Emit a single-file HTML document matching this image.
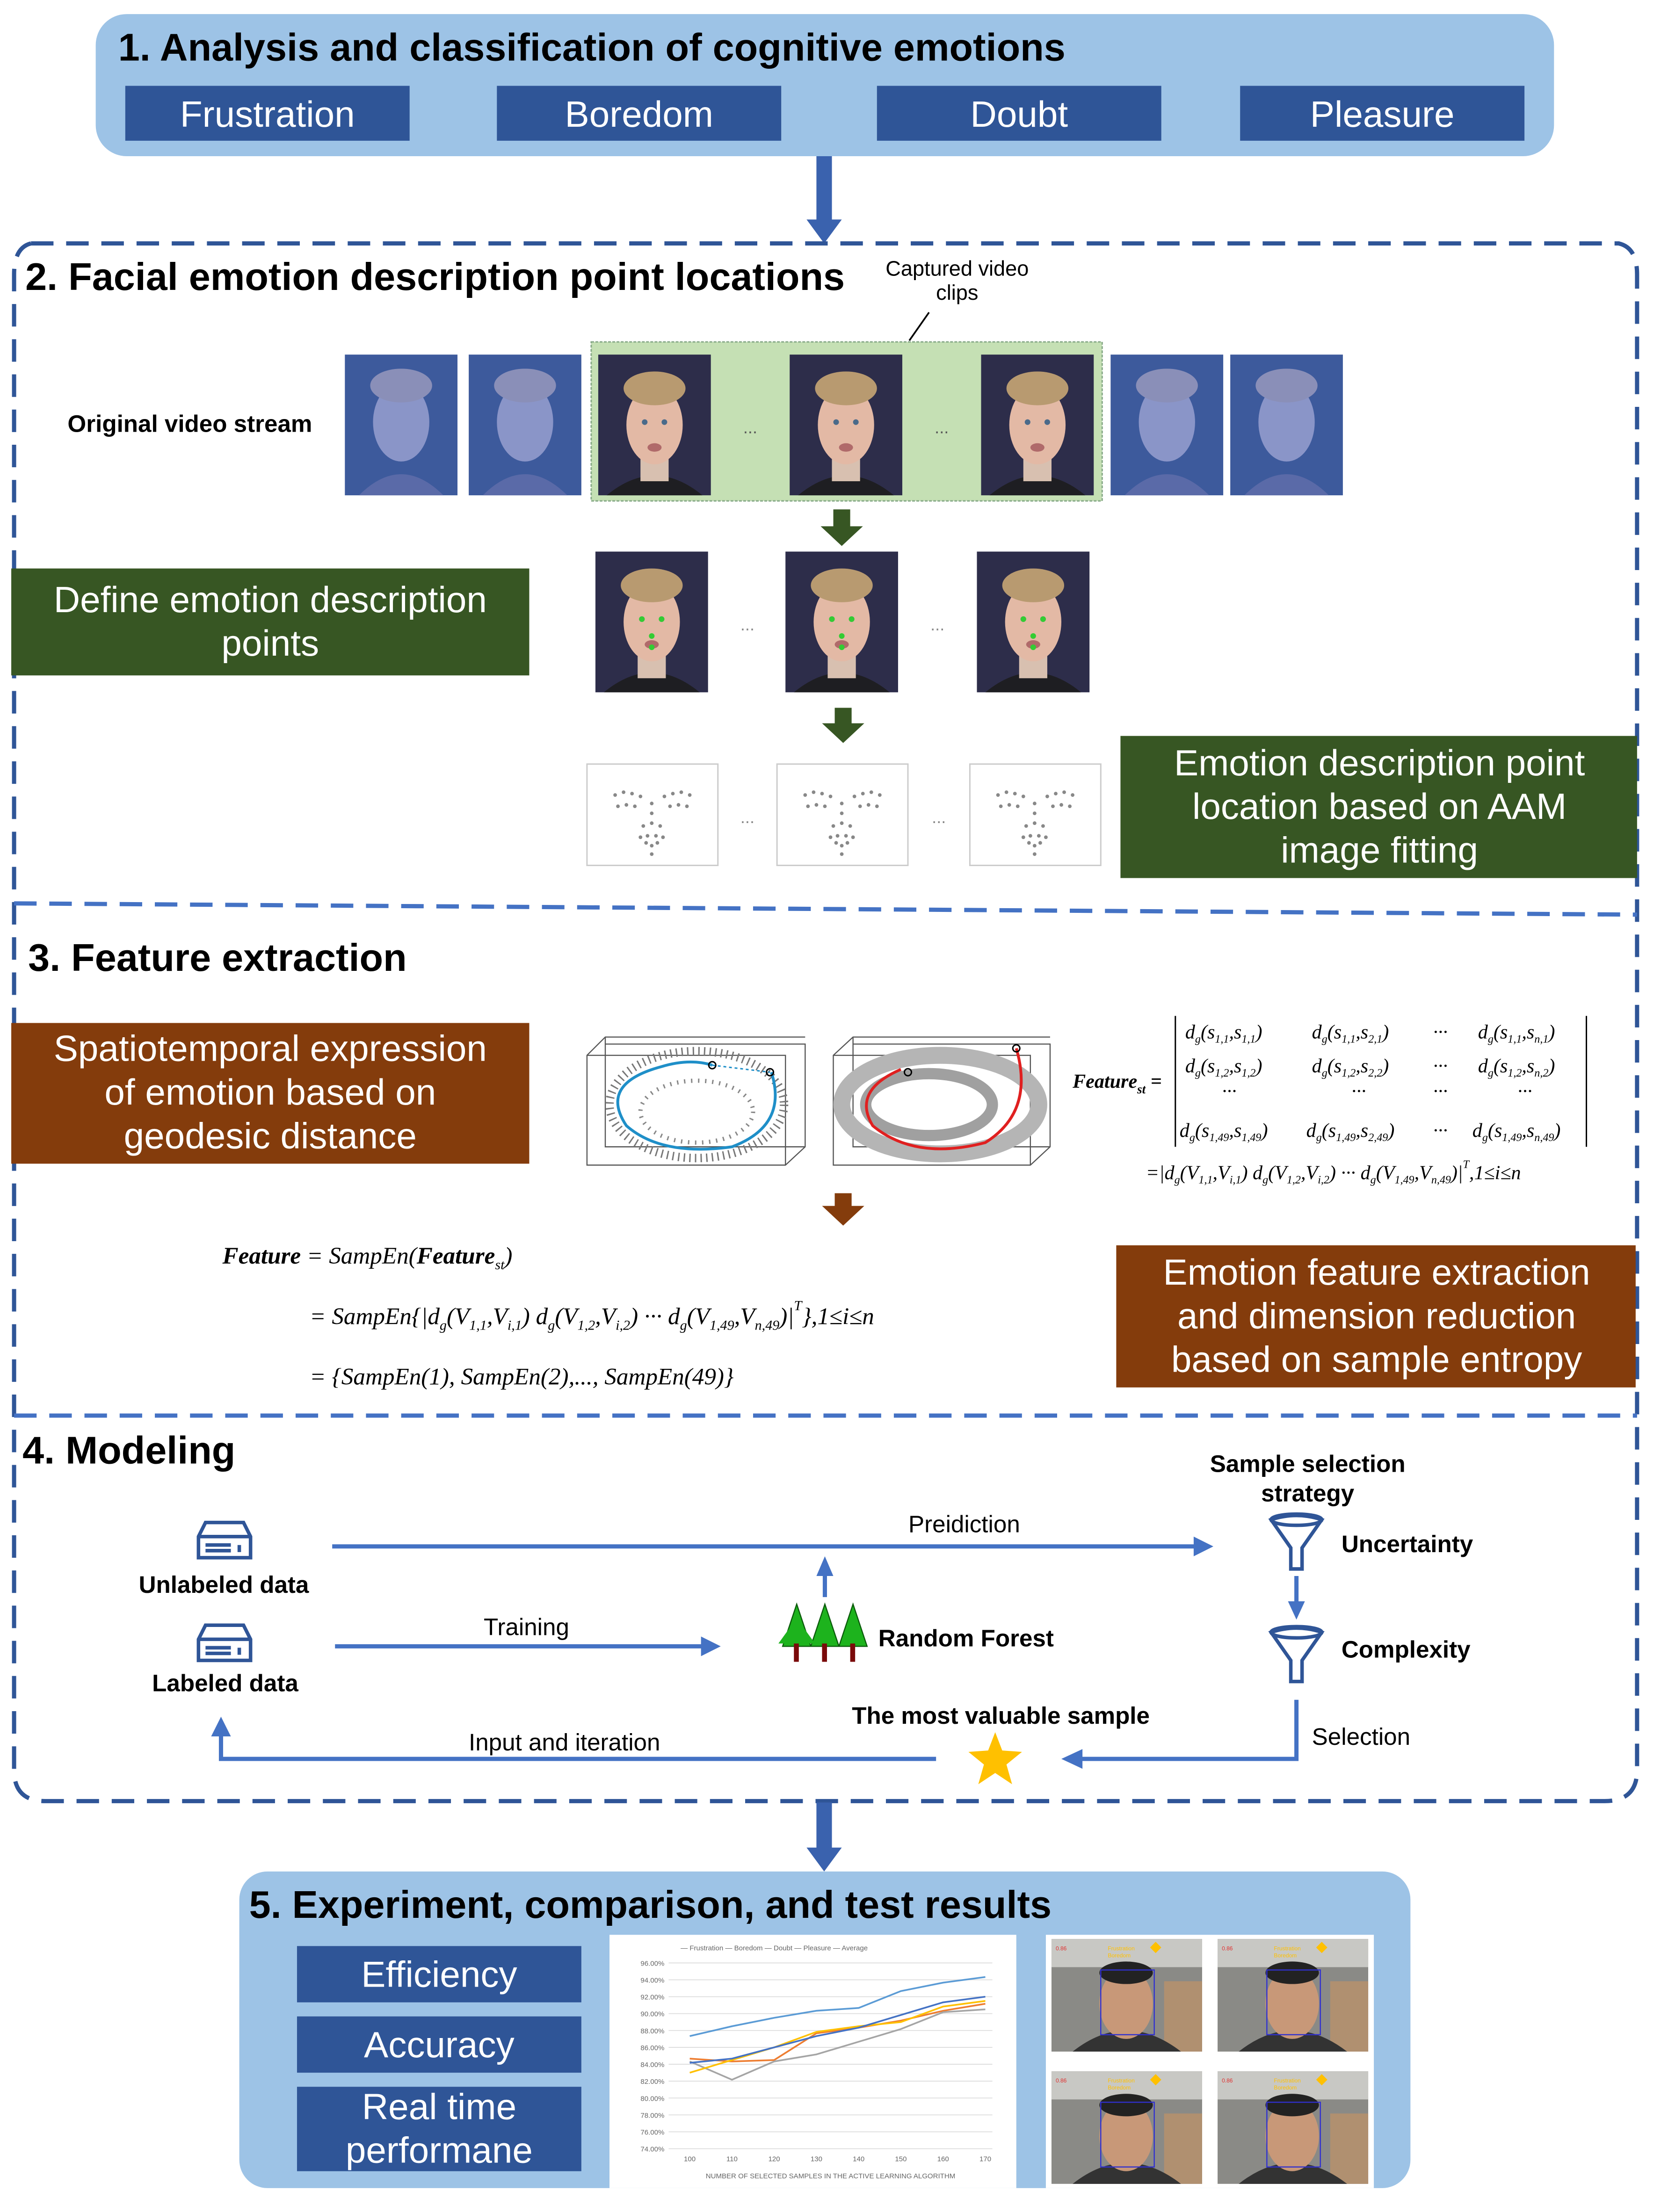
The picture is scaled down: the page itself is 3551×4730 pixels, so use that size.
<!DOCTYPE html>
<html><head><meta charset="utf-8"><style>
html,body{margin:0;padding:0;background:#fff;}
svg{display:block;}
.s{font-family:"Liberation Sans",sans-serif;}
.m{font-family:"Liberation Serif",serif;font-style:italic;}
</style></head><body>
<svg width="3551" height="4730" viewBox="0 0 1180 1572" preserveAspectRatio="none" xmlns="http://www.w3.org/2000/svg">
<defs>
<g id="face">
<rect x="0" y="0" width="80" height="100" fill="#3d5a9c"/>
<ellipse cx="40" cy="48" rx="20" ry="28" fill="#8a95c8"/>
<ellipse cx="40" cy="22" rx="22" ry="12" fill="#8a8fb8"/>
<path d="M10 100 Q40 70 70 100Z" fill="#5a6aa8"/>
</g>
<g id="faceC">
<rect x="0" y="0" width="80" height="100" fill="#2d2d4a"/>
<path d="M6 100 Q40 72 74 100Z" fill="#1e1e22"/>
<rect x="30" y="70" width="20" height="20" fill="#d8c0b0"/>
<ellipse cx="40" cy="50" rx="20" ry="28" fill="#e3b9a5"/>
<ellipse cx="40" cy="24" rx="22" ry="12" fill="#b89a70"/>
<circle cx="33" cy="48" r="2" fill="#4a6a8a"/><circle cx="47" cy="48" r="2" fill="#4a6a8a"/>
<ellipse cx="40" cy="66" rx="5" ry="3" fill="#b06a6a"/>
</g>
<g id="dots" fill="#888">
<circle cx="20" cy="20" r="1.3"/><circle cx="26" cy="18" r="1.3"/><circle cx="32" cy="19" r="1.3"/><circle cx="38" cy="21" r="1.3"/>
<circle cx="55" cy="21" r="1.3"/><circle cx="61" cy="19" r="1.3"/><circle cx="67" cy="18" r="1.3"/><circle cx="73" cy="20" r="1.3"/>
<circle cx="22" cy="28" r="1.3"/><circle cx="28" cy="27" r="1.3"/><circle cx="34" cy="28" r="1.3"/><circle cx="59" cy="28" r="1.3"/><circle cx="65" cy="27" r="1.3"/><circle cx="71" cy="28" r="1.3"/>
<circle cx="46" cy="26" r="1.3"/><circle cx="46" cy="33" r="1.3"/><circle cx="46" cy="40" r="1.3"/><circle cx="40" cy="42" r="1.3"/><circle cx="52" cy="42" r="1.3"/>
<circle cx="38" cy="50" r="1.3"/><circle cx="43" cy="49" r="1.3"/><circle cx="49" cy="49" r="1.3"/><circle cx="54" cy="50" r="1.3"/><circle cx="42" cy="54" r="1.3"/><circle cx="50" cy="54" r="1.3"/><circle cx="46" cy="56" r="1.3"/><circle cx="46" cy="62" r="1.3"/>
</g>
<g id="photo">
<rect width="107" height="80" fill="#8a8a86"/>
<rect x="0" y="0" width="107" height="20" fill="#c8c8c4"/>
<rect x="80" y="30" width="27" height="50" fill="#b09070"/>
<path d="M15 80 Q53 50 92 80Z" fill="#333"/>
<ellipse cx="53" cy="46" rx="19" ry="25" fill="#c89878"/>
<ellipse cx="53" cy="24" rx="19" ry="8" fill="#222"/>
<rect x="35" y="22" width="38" height="46" fill="none" stroke="#3030d0" stroke-width="0.8"/>
<text x="40" y="8" font-size="4" fill="#ffc000" class="s">Frustration</text>
<text x="40" y="13" font-size="4" fill="#ffc000" class="s">Boredom</text>
<text x="3" y="8" font-size="4" fill="#e03030" class="s">0.86</text>
<path d="M74 2 l4 4 -4 4 -4 -4Z" fill="#ffc000"/>
</g>
</defs>

<!-- Section 1 -->
<rect x="68" y="10" width="1036" height="101" rx="22" fill="#9dc3e6"/>
<text x="84" y="43" font-size="27.5" font-weight="bold" class="s">1. Analysis and classification of cognitive emotions</text>
<g fill="#2f5597"><rect x="89" y="61" width="202" height="39"/><rect x="353" y="61" width="202" height="39"/><rect x="623" y="61" width="202" height="39"/><rect x="881" y="61" width="202" height="39"/></g>
<g fill="#fff" font-size="26" text-anchor="middle" class="s"><text x="190" y="90">Frustration</text><text x="454" y="90">Boredom</text><text x="724" y="90">Doubt</text><text x="982" y="90">Pleasure</text></g>
<path d="M580 111 h11 v45 h7 l-12.5 17 -12.5 -17 h7z" fill="#3a62ae"/>

<!-- dashed frame -->
<g fill="none" stroke="#2f5597" stroke-width="3" stroke-dasharray="16 9">
<path d="M22 173 H1150 Q1163 176 1163 195 V1258 Q1163 1280 1140 1280 H32 Q10 1280 10 1258 V195 Q10 176 22 173"/>
</g>
<g stroke="#4472c4" stroke-width="3" stroke-dasharray="16 9">
<line x1="10" y1="642" x2="1163" y2="650"/>
<line x1="10" y1="1006" x2="1163" y2="1006"/>
</g>

<!-- Section 2 -->
<text x="18" y="206" font-size="27.5" font-weight="bold" class="s">2. Facial emotion description point locations</text>
<text x="680" y="196" font-size="15" text-anchor="middle" class="s">Captured video</text>
<text x="680" y="213" font-size="15" text-anchor="middle" class="s">clips</text>
<line x1="660" y1="222" x2="646" y2="242" stroke="#000" stroke-width="1.2"/>
<text x="48" y="307" font-size="17" font-weight="bold" class="s">Original video stream</text>
<use href="#face" x="245" y="252"/><use href="#face" x="333" y="252"/>
<rect x="420" y="243" width="363" height="113" fill="#c5e0b4" stroke="#8a8" stroke-dasharray="2 1"/>
<use href="#faceC" x="425" y="252"/><use href="#faceC" x="561" y="252"/><use href="#faceC" x="697" y="252"/>
<text x="533" y="308" font-size="12" text-anchor="middle" fill="#555" class="s">...</text>
<text x="669" y="308" font-size="12" text-anchor="middle" fill="#555" class="s">...</text>
<use href="#face" x="789" y="252"/><use href="#face" x="874" y="252"/>
<path d="M592 362 h12 v12 h9 l-15 14 -15 -14 h9z" fill="#375623"/>
<rect x="8" y="404" width="368" height="76" fill="#375623"/>
<text x="192" y="435" font-size="26" fill="#fff" text-anchor="middle" class="s">Define emotion description</text>
<text x="192" y="466" font-size="26" fill="#fff" text-anchor="middle" class="s">points</text>
<g><use href="#faceC" x="423" y="392"/><use href="#faceC" x="558" y="392"/><use href="#faceC" x="694" y="392"/></g>
<g fill="#3c3"><circle cx="456" cy="440" r="2"/><circle cx="470" cy="440" r="2"/><circle cx="463" cy="452" r="2"/><circle cx="463" cy="460" r="2"/><circle cx="591" cy="440" r="2"/><circle cx="605" cy="440" r="2"/><circle cx="598" cy="452" r="2"/><circle cx="598" cy="460" r="2"/><circle cx="727" cy="440" r="2"/><circle cx="741" cy="440" r="2"/><circle cx="734" cy="452" r="2"/><circle cx="734" cy="460" r="2"/></g>
<text x="531" y="448" font-size="12" text-anchor="middle" fill="#888" class="s">...</text>
<text x="666" y="448" font-size="12" text-anchor="middle" fill="#888" class="s">...</text>
<path d="M593 503 h12 v11 h9 l-15 14 -15 -14 h9z" fill="#375623"/>
<g fill="#fff" stroke="#ccc"><rect x="417" y="543" width="93" height="72"/><rect x="552" y="543" width="93" height="72"/><rect x="689" y="543" width="93" height="72"/></g>
<use href="#dots" x="417" y="545"/><use href="#dots" x="552" y="545"/><use href="#dots" x="689" y="545"/>
<text x="531" y="585" font-size="12" text-anchor="middle" fill="#888" class="s">...</text>
<text x="667" y="585" font-size="12" text-anchor="middle" fill="#888" class="s">...</text>
<rect x="796" y="523" width="367" height="101" fill="#375623"/>
<g fill="#fff" font-size="26" text-anchor="middle" class="s"><text x="980" y="551">Emotion description point</text><text x="980" y="582">location based on AAM</text><text x="980" y="613">image fitting</text></g>

<!-- Section 3 -->
<text x="20" y="690" font-size="27.5" font-weight="bold" class="s">3. Feature extraction</text>
<rect x="8" y="727" width="368" height="100" fill="#843c0c"/>
<g fill="#fff" font-size="26" text-anchor="middle" class="s"><text x="192" y="754">Spatiotemporal expression</text><text x="192" y="785">of emotion based on</text><text x="192" y="816">geodesic distance</text></g>
<g fill="none" stroke="#555" stroke-width="0.8">
<path d="M430 742 L572 742 L572 815 L558 828 L417 828 L417 750 L430 737 L572 737 M430 737 V815 H572 M417 750 H558 V828"/>
<path d="M606 742 L746 742 L746 815 L732 828 L592 828 L592 750 L606 737 L746 737 M606 737 V815 H746 M592 750 H732 V828"/>
</g>
<ellipse cx="495" cy="785" rx="62" ry="38" fill="none" stroke="#777" stroke-width="6" stroke-dasharray="1 3"/>
<ellipse cx="495" cy="790" rx="40" ry="22" fill="none" stroke="#888" stroke-width="3" stroke-dasharray="1 4"/>
<path d="M548 762 Q560 800 520 815 Q470 822 445 800 Q425 770 470 758 Q490 752 506 757" fill="none" stroke="#1f8fc8" stroke-width="2"/>
<path d="M506 757 L547 762" stroke="#1f8fc8" stroke-dasharray="2 2"/>
<circle cx="547" cy="762" r="2.5" fill="none" stroke="#000"/><circle cx="506" cy="757" r="2.5" fill="none" stroke="#000"/>
<ellipse cx="668" cy="785" rx="70" ry="35" fill="none" stroke="#b5b5b5" stroke-width="12"/>
<ellipse cx="660" cy="785" rx="45" ry="22" fill="none" stroke="#a0a0a0" stroke-width="8"/>
<path d="M722 745 Q735 790 700 812 Q650 825 620 800 Q605 775 640 760" fill="none" stroke="#e02020" stroke-width="2"/>
<circle cx="722" cy="745" r="2.5" fill="none" stroke="#000"/><circle cx="645" cy="762" r="2.5" fill="none" stroke="#000"/>
<g class="m" font-size="14">
<text x="762" y="773" font-weight="bold">Feature<tspan font-size="9" dy="4">st</tspan><tspan dy="-4"> =</tspan></text>
<line x1="835" y1="722" x2="835" y2="815" stroke="#000"/><line x1="1127" y1="722" x2="1127" y2="815" stroke="#000"/>
<text x="842" y="738">d<tspan font-size="8" dy="3">g</tspan><tspan dy="-3">(s<tspan font-size="8" dy="3">1,1</tspan><tspan dy="-3">,s</tspan><tspan font-size="8" dy="3">1,1</tspan><tspan dy="-3">)</tspan></tspan></text>
<text x="932" y="738">d<tspan font-size="8" dy="3">g</tspan><tspan dy="-3">(s<tspan font-size="8" dy="3">1,1</tspan><tspan dy="-3">,s</tspan><tspan font-size="8" dy="3">2,1</tspan><tspan dy="-3">)</tspan></tspan></text>
<text x="1018" y="738">···</text>
<text x="1050" y="738">d<tspan font-size="8" dy="3">g</tspan><tspan dy="-3">(s<tspan font-size="8" dy="3">1,1</tspan><tspan dy="-3">,s</tspan><tspan font-size="8" dy="3">n,1</tspan><tspan dy="-3">)</tspan></tspan></text>
<text x="842" y="762">d<tspan font-size="8" dy="3">g</tspan><tspan dy="-3">(s<tspan font-size="8" dy="3">1,2</tspan><tspan dy="-3">,s</tspan><tspan font-size="8" dy="3">1,2</tspan><tspan dy="-3">)</tspan></tspan></text>
<text x="932" y="762">d<tspan font-size="8" dy="3">g</tspan><tspan dy="-3">(s<tspan font-size="8" dy="3">1,2</tspan><tspan dy="-3">,s</tspan><tspan font-size="8" dy="3">2,2</tspan><tspan dy="-3">)</tspan></tspan></text>
<text x="1018" y="762">···</text>
<text x="1050" y="762">d<tspan font-size="8" dy="3">g</tspan><tspan dy="-3">(s<tspan font-size="8" dy="3">1,2</tspan><tspan dy="-3">,s</tspan><tspan font-size="8" dy="3">n,2</tspan><tspan dy="-3">)</tspan></tspan></text>
<text x="868" y="780">···</text><text x="960" y="780">···</text><text x="1018" y="780">···</text><text x="1078" y="780">···</text>
<text x="838" y="808">d<tspan font-size="8" dy="3">g</tspan><tspan dy="-3">(s<tspan font-size="8" dy="3">1,49</tspan><tspan dy="-3">,s</tspan><tspan font-size="8" dy="3">1,49</tspan><tspan dy="-3">)</tspan></tspan></text>
<text x="928" y="808">d<tspan font-size="8" dy="3">g</tspan><tspan dy="-3">(s<tspan font-size="8" dy="3">1,49</tspan><tspan dy="-3">,s</tspan><tspan font-size="8" dy="3">2,49</tspan><tspan dy="-3">)</tspan></tspan></text>
<text x="1018" y="808">···</text>
<text x="1046" y="808">d<tspan font-size="8" dy="3">g</tspan><tspan dy="-3">(s<tspan font-size="8" dy="3">1,49</tspan><tspan dy="-3">,s</tspan><tspan font-size="8" dy="3">n,49</tspan><tspan dy="-3">)</tspan></tspan></text>
<text x="814" y="838">=|d<tspan font-size="8" dy="3">g</tspan><tspan dy="-3">(V<tspan font-size="8" dy="3">1,1</tspan><tspan dy="-3">,V</tspan><tspan font-size="8" dy="3">i,1</tspan><tspan dy="-3">)   d</tspan><tspan font-size="8" dy="3">g</tspan><tspan dy="-3">(V</tspan><tspan font-size="8" dy="3">1,2</tspan><tspan dy="-3">,V</tspan><tspan font-size="8" dy="3">i,2</tspan><tspan dy="-3">)   ···   d</tspan><tspan font-size="8" dy="3">g</tspan><tspan dy="-3">(V</tspan><tspan font-size="8" dy="3">1,49</tspan><tspan dy="-3">,V</tspan><tspan font-size="8" dy="3">n,49</tspan><tspan dy="-3">)|</tspan><tspan font-size="8" dy="-8">T</tspan><tspan dy="8">,1≤i≤n</tspan></tspan></text>
</g>
<path d="M593 848 h12 v9 h9 l-15 14 -15 -14 h9z" fill="#843c0c"/>
<g class="m" font-size="17">
<text x="158" y="898"><tspan font-weight="bold">Feature</tspan> = SampEn(<tspan font-weight="bold">Feature</tspan><tspan font-size="10" dy="4">st</tspan><tspan dy="-4">)</tspan></text>
<text x="220" y="941">= SampEn{|d<tspan font-size="10" dy="4">g</tspan><tspan dy="-4">(V</tspan><tspan font-size="10" dy="4">1,1</tspan><tspan dy="-4">,V</tspan><tspan font-size="10" dy="4">i,1</tspan><tspan dy="-4">)   d</tspan><tspan font-size="10" dy="4">g</tspan><tspan dy="-4">(V</tspan><tspan font-size="10" dy="4">1,2</tspan><tspan dy="-4">,V</tspan><tspan font-size="10" dy="4">i,2</tspan><tspan dy="-4">)   ···   d</tspan><tspan font-size="10" dy="4">g</tspan><tspan dy="-4">(V</tspan><tspan font-size="10" dy="4">1,49</tspan><tspan dy="-4">,V</tspan><tspan font-size="10" dy="4">n,49</tspan><tspan dy="-4">)|</tspan><tspan font-size="10" dy="-10">T</tspan><tspan dy="10">},1≤i≤n</tspan></text>
<text x="220" y="984">= {SampEn(1),  SampEn(2),..., SampEn(49)}</text>
</g>
<rect x="793" y="885" width="369" height="101" fill="#843c0c"/>
<g fill="#fff" font-size="26" text-anchor="middle" class="s"><text x="978" y="913">Emotion feature extraction</text><text x="978" y="944">and dimension reduction</text><text x="978" y="975">based on sample entropy</text></g>

<!-- Section 4 -->
<text x="16" y="1040" font-size="27.5" font-weight="bold" class="s">4. Modeling</text>
<g fill="none" stroke="#2f5597" stroke-width="2.5">
<path d="M141 1092 L146 1082 H173 L178 1092 V1107 H141Z M141 1092 H178"/><path d="M146 1098 H164 M146 1102 H164 M170 1098 V1103"/>
<path d="M141 1165 L146 1155 H173 L178 1165 V1180 H141Z M141 1165 H178"/><path d="M146 1171 H164 M146 1175 H164 M170 1171 V1176"/>
</g>
<g font-size="17" font-weight="bold" class="s" text-anchor="middle"><text x="159" y="1132">Unlabeled data</text><text x="160" y="1202">Labeled data</text>
<text x="929" y="1046">Sample selection</text><text x="929" y="1067">strategy</text><text x="711" y="1225">The most valuable sample</text></g>
<g font-size="17" font-weight="bold" class="s"><text x="624" y="1170">Random Forest</text><text x="953" y="1103">Uncertainty</text><text x="953" y="1178">Complexity</text></g>
<g font-size="17" class="s"><text x="685" y="1089" text-anchor="middle">Preidiction</text><text x="374" y="1162" text-anchor="middle">Training</text><text x="401" y="1244" text-anchor="middle">Input and iteration</text><text x="932" y="1240">Selection</text></g>
<g stroke="#4472c4" stroke-width="3" fill="none">
<line x1="236" y1="1099" x2="850" y2="1099"/>
<line x1="238" y1="1170" x2="500" y2="1170"/>
<line x1="586" y1="1135" x2="586" y2="1118"/>
<line x1="921" y1="1120" x2="921" y2="1140"/>
<path d="M921 1208 V1250 H767"/>
<path d="M665 1250 H157 V1232"/>
</g>
<g fill="#4472c4">
<path d="M848 1092 L862 1099 848 1106Z"/><path d="M498 1163 L512 1170 498 1177Z"/>
<path d="M580 1120 L586 1106 592 1120Z"/><path d="M915 1138 L921 1151 927 1138Z"/>
<path d="M769 1243 L754 1250 769 1257Z"/><path d="M150 1234 L157 1220 164 1234Z"/>
</g>
<g fill="none" stroke="#2f5597" stroke-width="2.5">
<path d="M903 1080 Q921 1074 939 1080 L925 1100 V1115 H917 V1100Z"/><ellipse cx="921" cy="1080" rx="18" ry="4"/>
<path d="M903 1160 Q921 1154 939 1160 L925 1180 V1195 H917 V1180Z"/><ellipse cx="921" cy="1160" rx="18" ry="4"/>
</g>
<g>
<path d="M566 1140 L556 1170 H576Z M586 1140 L576 1170 H596Z M606 1140 L596 1170 H616Z" fill="#1db31d" stroke="#0a5a0a" stroke-width="0.8"/>
<path d="M566 1150 L553 1168 H579Z" fill="#1db31d"/>
<rect x="564" y="1168" width="3.5" height="13" fill="#7a0a0a"/><rect x="584" y="1168" width="3.5" height="13" fill="#7a0a0a"/><rect x="604" y="1168" width="3.5" height="13" fill="#7a0a0a"/>
</g>
<path d="M707 1231 L712 1244 726 1245 715 1254 719 1268 707 1260 695 1268 699 1254 688 1245 702 1244Z" fill="#ffc000"/>
<path d="M580 1281 h11 v32 h7 l-12.5 17 -12.5 -17 h7z" fill="#3a62ae"/>

<!-- Section 5 -->
<rect x="170" y="1330" width="832" height="225" rx="20" fill="#9dc3e6"/>
<text x="177" y="1363" font-size="27.5" font-weight="bold" class="s">5. Experiment, comparison, and test results</text>
<g fill="#2f5597"><rect x="211" y="1383" width="202" height="40"/><rect x="211" y="1433" width="202" height="40"/><rect x="211" y="1483" width="202" height="60"/></g>
<g fill="#fff" font-size="26" text-anchor="middle" class="s"><text x="312" y="1412">Efficiency</text><text x="312" y="1462">Accuracy</text><text x="312" y="1506">Real time</text><text x="312" y="1537">performane</text></g>
<rect x="433" y="1375" width="289" height="180" fill="#fff"/>
<g stroke="#ddd" stroke-width="0.6">
<line x1="475" y1="1395" x2="705" y2="1395"/><line x1="475" y1="1407" x2="705" y2="1407"/><line x1="475" y1="1419" x2="705" y2="1419"/><line x1="475" y1="1431" x2="705" y2="1431"/><line x1="475" y1="1443" x2="705" y2="1443"/><line x1="475" y1="1455" x2="705" y2="1455"/><line x1="475" y1="1467" x2="705" y2="1467"/><line x1="475" y1="1479" x2="705" y2="1479"/><line x1="475" y1="1491" x2="705" y2="1491"/><line x1="475" y1="1503" x2="705" y2="1503"/><line x1="475" y1="1515" x2="705" y2="1515"/><line x1="475" y1="1527" x2="705" y2="1527"/>
</g>
<g font-size="5" fill="#666" class="s" text-anchor="end">
<text x="472" y="1397">96.00%</text><text x="472" y="1409">94.00%</text><text x="472" y="1421">92.00%</text><text x="472" y="1433">90.00%</text><text x="472" y="1445">88.00%</text><text x="472" y="1457">86.00%</text><text x="472" y="1469">84.00%</text><text x="472" y="1481">82.00%</text><text x="472" y="1493">80.00%</text><text x="472" y="1505">78.00%</text><text x="472" y="1517">76.00%</text><text x="472" y="1529">74.00%</text>
</g>
<g font-size="5" fill="#666" class="s" text-anchor="middle">
<text x="490" y="1536">100</text><text x="520" y="1536">110</text><text x="550" y="1536">120</text><text x="580" y="1536">130</text><text x="610" y="1536">140</text><text x="640" y="1536">150</text><text x="670" y="1536">160</text><text x="700" y="1536">170</text>
<text x="590" y="1548">NUMBER OF SELECTED SAMPLES IN THE ACTIVE LEARNING ALGORITHM</text>
<text x="550" y="1386">— Frustration   — Boredom   — Doubt   — Pleasure   — Average</text>
</g>
<g fill="none" stroke-width="1.2">
<polyline stroke="#5b9bd5" points="490,1447 520,1440 550,1434 580,1429 610,1427 640,1415 670,1409 700,1405"/>
<polyline stroke="#ed7d31" points="490,1463 520,1465 550,1464 580,1445 610,1441 640,1436 670,1429 700,1424"/>
<polyline stroke="#a5a5a5" points="490,1465 520,1478 550,1465 580,1460 610,1451 640,1442 670,1430 700,1428"/>
<polyline stroke="#ffc000" points="490,1473 520,1464 550,1455 580,1444 610,1440 640,1437 670,1426 700,1422"/>
<polyline stroke="#4472c4" points="490,1466 520,1463 550,1455 580,1447 610,1441 640,1432 670,1423 700,1419"/>
</g>
<rect x="743" y="1375" width="233" height="180" fill="#fff"/>
<use href="#photo" x="747" y="1378"/><use href="#photo" x="865" y="1378"/>
<use href="#photo" x="747" y="1472"/><use href="#photo" x="865" y="1472"/>
</svg>
</body></html>
